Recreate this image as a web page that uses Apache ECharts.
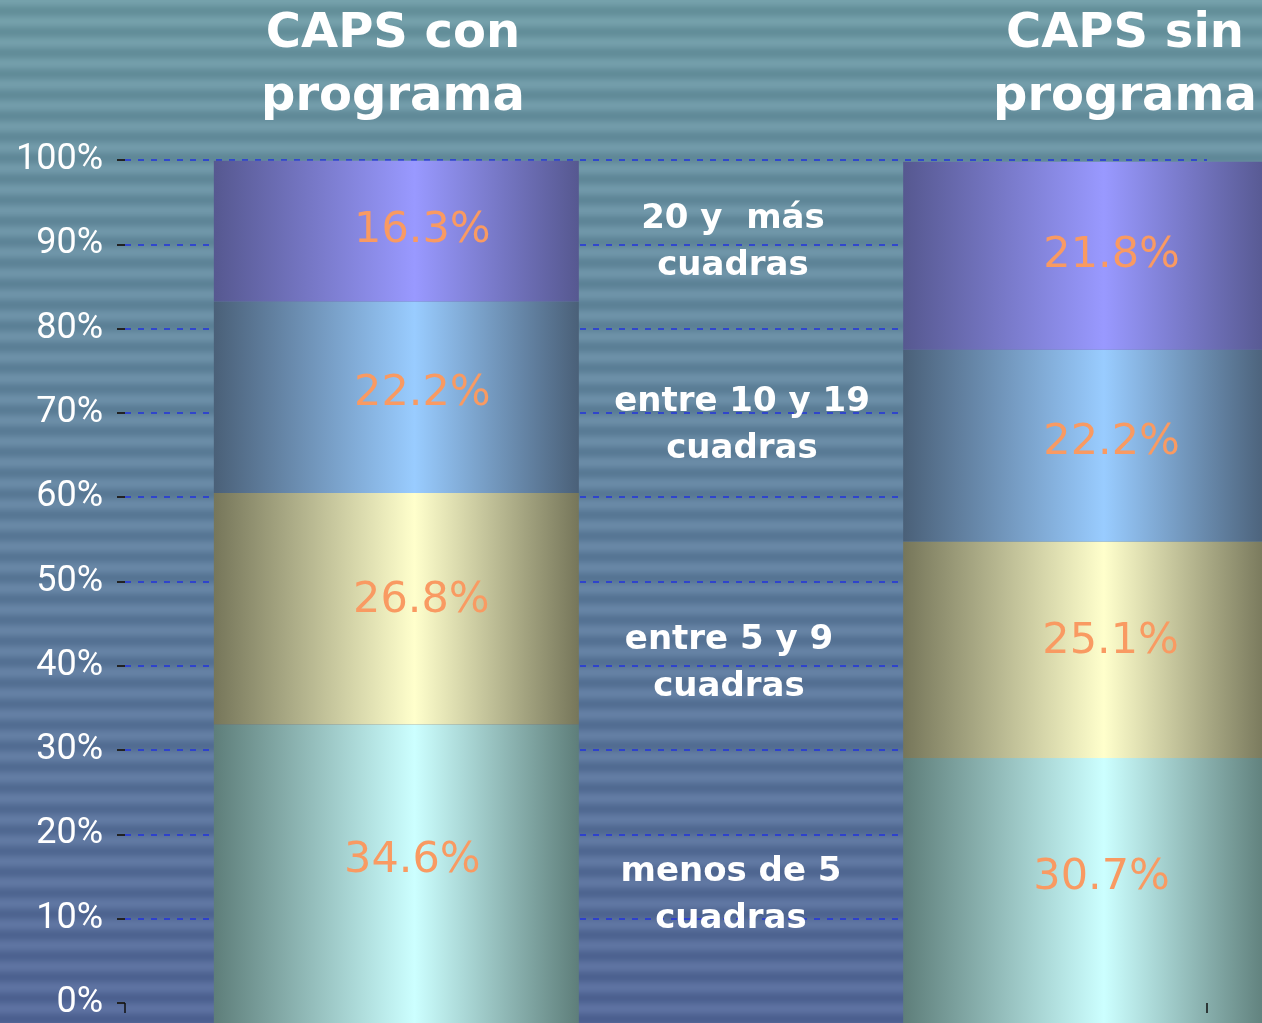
<!DOCTYPE html>
<html>
<head>
<meta charset="utf-8">
<script src="https://cdn.jsdelivr.net/npm/echarts@6/dist/echarts.min.js"></script>
<style>
	html, body { margin: 0; padding: 0; }
	#main { width: 1262px; height: 1023px; }
</style>
</head>
<body>
<div id="main"></div>
<script>
	// datos
	var grupos = ['CAPS con\nprograma', 'CAPS sin\nprograma'];
	var rangos = ['menos de 5\ncuadras', 'entre 5 y 9\ncuadras', 'entre 10 y 19\ncuadras', '20 y  más\ncuadras'];
	var menos5 = [34.6, 30.7];
	var entre5y9 = [26.8, 25.1];
	var entre10y19 = [22.2, 22.2];
	var mas20 = [16.3, 21.8];
	var yTicks = [0, 100, 10];

	// fondo rayado
	function fondo() {
		var c = document.createElement('canvas');
		c.width = 4;
		c.height = 1023;
		var ctx = c.getContext('2d');
		var top = [108, 152, 162],
			bot = [84, 104, 152];
		for (var y = 0; y < 1023; y++) {
			var t = y / 1023;
			var s = Math.cos(2 * Math.PI * y / 21) * 9;
			var r = Math.round(top[0] + (bot[0] - top[0]) * t + s),
				g = Math.round(top[1] + (bot[1] - top[1]) * t + s),
				b = Math.round(top[2] + (bot[2] - top[2]) * t + s);
			ctx.fillStyle = 'rgb(' + r + ',' + g + ',' + b + ')';
			ctx.fillRect(0, y, 4, 1);
		};
		return c;
	};

	function grad(edge, mid) {
		return new echarts.graphic.LinearGradient(0, 0, 1, 0, [
			{ offset: 0, color: edge },
			{ offset: 0.55, color: mid },
			{ offset: 1, color: edge }
		]);
	};

	// columna central vacia entre los dos grupos
	function conHueco(arr) {
		return [arr[0], '-', arr[1]];
	};

	var labelBase = {
		show: true,
		position: 'inside',
		color: '#F99A62',
		fontFamily: 'DejaVu Sans',
		fontSize: 43,
		formatter: function(p) {
			return p.value.toFixed(1) + '%';
		}
	};

	function serie(name, data, edge, mid, offset) {
		return {
			name: name,
			type: 'bar',
			stack: 'total',
			xAxisIndex: 1,
			yAxisIndex: 1,
			barWidth: 365,
			clip: false,
			z: 3,
			itemStyle: { color: grad(edge, mid) },
			label: Object.assign({}, labelBase, { offset: offset }),
			data: conHueco(data)
		};
	};

	var myChart = echarts.init(document.getElementById('main'));

	var option = {
		animation: false,
		grid: [{
			left: 125,
			right: 55,
			top: 160,
			bottom: 20
		}, {
			left: 224,
			right: 4,
			top: 160,
			bottom: 0
		}],
		xAxis: [{
			type: 'value',
			gridIndex: 0,
			z: 10,
			min: 0,
			max: 1,
			interval: 1,
			axisLine: { show: false },
			axisTick: { show: true, length: 10, lineStyle: { color: '#111', width: 1.5 } },
			axisLabel: { show: false },
			splitLine: { show: false }
		}, {
			type: 'category',
			gridIndex: 1,
			data: conHueco(grupos),
			show: false
		}],
		yAxis: [{
			type: 'value',
			gridIndex: 0,
			min: yTicks[0],
			max: yTicks[1],
			interval: yTicks[2],
			axisLine: { show: false },
			axisTick: { show: true, length: 8, lineStyle: { color: '#222', width: 2 } },
			axisLabel: {
				margin: 22,
				color: '#fff',
				fontFamily: 'Roboto',
				fontSize: 36,
				formatter: '{value}%'
			},
			splitLine: {
				show: true,
				showMinLine: false,
				lineStyle: { color: '#2233DD', type: [6, 7], width: 1.5 }
			}
		}, {
			type: 'value',
			gridIndex: 1,
			min: yTicks[0],
			max: yTicks[1],
			show: false,
			splitLine: { show: false }
		}],
		graphic: [{
			type: 'image',
			z: -10,
			left: 0,
			top: 0,
			silent: true,
			style: { image: fondo(), x: 0, y: 0, width: 1262, height: 1023 }
		}, {
			type: 'text', z: 10, x: 393, y: 66,
			style: { text: grupos[0], fill: '#fff', font: 'bold 48px "DejaVu Sans"', align: 'center', verticalAlign: 'middle', lineHeight: 63 }
		}, {
			type: 'text', z: 10, x: 1125, y: 66,
			style: { text: grupos[1], fill: '#fff', font: 'bold 48px "DejaVu Sans"', align: 'center', verticalAlign: 'middle', lineHeight: 63 }
		}, {
			type: 'text', z: 10, x: 733, y: 243,
			style: { text: rangos[3], fill: '#fff', font: 'bold 34px "DejaVu Sans"', align: 'center', verticalAlign: 'middle', lineHeight: 47 }
		}, {
			type: 'text', z: 10, x: 742, y: 426,
			style: { text: rangos[2], fill: '#fff', font: 'bold 34px "DejaVu Sans"', align: 'center', verticalAlign: 'middle', lineHeight: 47 }
		}, {
			type: 'text', z: 10, x: 729, y: 664,
			style: { text: rangos[1], fill: '#fff', font: 'bold 34px "DejaVu Sans"', align: 'center', verticalAlign: 'middle', lineHeight: 47 }
		}, {
			type: 'text', z: 10, x: 731, y: 896,
			style: { text: rangos[0], fill: '#fff', font: 'bold 34px "DejaVu Sans"', align: 'center', verticalAlign: 'middle', lineHeight: 47 }
		}],
		series: [
			serie(rangos[0], menos5, '#5E7E7A', '#CCFFFF', [16, -13]),
			serie(rangos[1], entre5y9, '#76765A', '#FFFFCC', [25, -8]),
			serie(rangos[2], entre10y19, '#4A6078', '#99CCFF', [26, -3]),
			serie(rangos[3], mas20, '#565890', '#9999FF', [26, 0])
		]
	};
	myChart.setOption(option);
</script>
</body>
</html>
